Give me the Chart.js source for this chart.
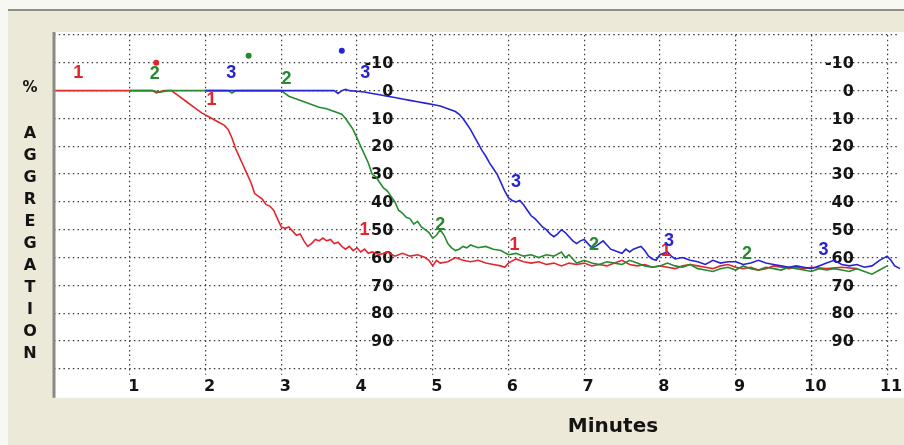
<!DOCTYPE html>
<html>
<head>
<meta charset="utf-8">
<script src="https://cdn.jsdelivr.net/npm/chart.js@4/dist/chart.umd.min.js"></script>
<style>
  html, body { margin: 0; padding: 0; }
  body { width: 904px; height: 445px; background: #f7f7f3; position: relative; overflow: hidden; font-family: 'DejaVu Sans', sans-serif; }
  #panel { position: absolute; left: 8px; top: 9px; right: 0; bottom: 0; background: #ece9d8; border-top: 2px solid #8f8f86; }
  #wrap { position: absolute; left: 0; top: 0; width: 904px; height: 445px; }
  .lbl { position: absolute; font-weight: bold; color: #141414; text-align: center; }
  #pct { left: 18px; top: 77px; width: 24px; font-size: 15px; line-height: 20px; }
  #word { left: 18px; top: 122px; width: 24px; font-size: 16px; line-height: 22px; }
  #xTitle { left: 533px; top: 411px; width: 160px; font-size: 20px; line-height: 28px; }
</style>
</head>
<body>
<div id="panel"></div>
<div id="wrap"><canvas id="c" width="904" height="445"></canvas></div>
<div class="lbl" id="pct">%</div>
<div class="lbl" id="word">A<br>G<br>G<br>R<br>E<br>G<br>A<br>T<br>I<br>O<br>N</div>
<div class="lbl" id="xTitle">Minutes</div>
<script>
// Aggregation traces (% aggregation vs. minutes) for the three channels
const timeRed = [0, 1.3, 1.35, 1.45, 1.55, 1.65, 1.75, 1.85, 1.95, 2.05, 2.15, 2.25, 2.3, 2.35, 2.4, 2.45, 2.5, 2.55, 2.6, 2.65, 2.7, 2.75, 2.8, 2.85, 2.9, 2.95, 3.0, 3.05, 3.1, 3.15, 3.2, 3.25, 3.3, 3.35, 3.4, 3.45, 3.5, 3.55, 3.6, 3.65, 3.7, 3.75, 3.8, 3.85, 3.9, 3.95, 4.0, 4.05, 4.1, 4.15, 4.2, 4.3, 4.4, 4.5, 4.6, 4.7, 4.8, 4.9, 4.95, 5.0, 5.05, 5.1, 5.2, 5.3, 5.4, 5.5, 5.6, 5.7, 5.8, 5.9, 5.95, 6.0, 6.1, 6.2, 6.3, 6.4, 6.5, 6.6, 6.7, 6.8, 6.9, 7.0, 7.1, 7.2, 7.3, 7.4, 7.5, 7.6, 7.7, 7.8, 7.9, 8.0, 8.1, 8.2, 8.3, 8.4, 8.5, 8.6, 8.7, 8.8, 8.9, 9.0, 9.1, 9.2, 9.3, 9.4, 9.5, 9.6, 9.7, 9.8, 9.9, 10.0, 10.2, 10.4, 10.6];
const aggRed = [0, 0, 0.8, 0, 0, 2, 4, 6, 8, 9.5, 11, 12.5, 14, 17, 21, 24, 27, 30, 33, 37, 38, 39, 41, 41.5, 43, 46, 49, 49.5, 49, 50.5, 52, 51.5, 54, 56, 55, 53.5, 54, 53, 54, 53.5, 55, 54.5, 56, 57, 56, 57.5, 56.5, 58, 57, 58.5, 58, 59, 58, 59.5, 58.5, 59.5, 59, 60, 61, 63, 61, 62, 61.5, 60, 61, 61.5, 61, 62, 62.5, 63, 63.5, 62, 60.5, 61.5, 62, 61.5, 62.5, 62, 63, 62, 62.5, 62, 63, 62.5, 63, 62, 61, 62.5, 63, 62.5, 63.5, 63, 63.5, 64, 63, 62.5, 63, 63.5, 64, 63, 62.5, 63.5, 64, 63.5, 64.5, 64, 63, 63.5, 64, 63.5, 64, 63.5, 64, 63.5, 64];

const timeGreen = [1.0, 1.3, 1.4, 1.5, 2.3, 2.35, 2.4, 3.0, 3.05, 3.1, 3.2, 3.3, 3.4, 3.5, 3.6, 3.7, 3.8, 3.85, 3.9, 3.95, 4.0, 4.05, 4.1, 4.15, 4.2, 4.25, 4.3, 4.35, 4.4, 4.45, 4.5, 4.55, 4.6, 4.65, 4.7, 4.75, 4.8, 4.85, 4.9, 4.95, 5.0, 5.05, 5.1, 5.15, 5.2, 5.25, 5.3, 5.35, 5.4, 5.45, 5.5, 5.6, 5.7, 5.8, 5.9, 6.0, 6.1, 6.2, 6.3, 6.4, 6.5, 6.6, 6.7, 6.75, 6.8, 6.85, 6.9, 7.0, 7.1, 7.2, 7.3, 7.4, 7.5, 7.6, 7.7, 7.8, 7.9, 8.0, 8.1, 8.2, 8.3, 8.4, 8.5, 8.6, 8.7, 8.8, 8.9, 9.0, 9.1, 9.2, 9.3, 9.4, 9.5, 9.6, 9.7, 9.8, 9.9, 10.0, 10.1, 10.2, 10.3, 10.4, 10.5, 10.6, 10.7, 10.8, 10.9, 11.0];
const aggGreen = [0, 0, 0.6, 0, 0, 0.9, 0, 0, 1, 2, 3, 4, 5, 6, 6.5, 7.5, 8.5, 10, 12, 14, 17, 20, 23, 26, 30, 31, 33, 35, 36, 38, 40, 43, 44, 45.5, 46, 48, 47, 49, 50, 51, 53, 52, 50, 52, 55, 56.5, 57.5, 57, 56, 56.5, 55.5, 56.5, 56, 57, 57.5, 59, 58.5, 59.5, 59, 60, 59, 59.5, 58, 60, 59, 60.5, 62, 61, 62, 62.5, 61.5, 62, 62.5, 61, 62, 63, 63.5, 63, 62, 63, 63.5, 62.5, 64, 64.5, 65, 64, 63.5, 64.5, 63, 64, 64.5, 63.5, 64, 64.5, 63.5, 64, 64.5, 65, 64, 64.5, 64, 64.5, 65, 64, 65, 66, 64.5, 63];

const timeBlue = [2.0, 3.7, 3.75, 3.8, 3.85, 3.9, 4.0, 4.1, 4.2, 4.3, 4.4, 4.5, 4.6, 4.7, 4.8, 4.9, 5.0, 5.1, 5.2, 5.3, 5.35, 5.4, 5.45, 5.5, 5.55, 5.6, 5.65, 5.7, 5.75, 5.8, 5.85, 5.9, 5.95, 6.0, 6.05, 6.1, 6.15, 6.2, 6.25, 6.3, 6.35, 6.4, 6.45, 6.5, 6.55, 6.6, 6.65, 6.7, 6.75, 6.8, 6.85, 6.9, 6.95, 7.0, 7.05, 7.1, 7.15, 7.2, 7.25, 7.3, 7.35, 7.4, 7.45, 7.5, 7.55, 7.6, 7.65, 7.7, 7.75, 7.8, 7.85, 7.9, 7.95, 8.0, 8.1, 8.15, 8.2, 8.3, 8.4, 8.5, 8.6, 8.7, 8.8, 8.9, 9.0, 9.1, 9.2, 9.3, 9.4, 9.5, 9.6, 9.7, 9.8, 9.9, 10.0, 10.1, 10.2, 10.3, 10.4, 10.5, 10.6, 10.7, 10.8, 10.9, 11.0, 11.05, 11.1, 11.17];
const aggBlue = [0, 0, 1, 0, -0.5, 0, 0.2, 0.5, 1, 1.5, 2, 2.5, 3, 3.5, 4, 4.5, 5, 5.5, 6.5, 7.5, 8.5, 10, 12, 14, 16.5, 19, 21.5, 23.5, 26, 28, 30, 33, 36, 38.5, 39.5, 40, 39.5, 41, 43, 45, 46, 47.5, 49, 50, 51.5, 52.5, 51.5, 50, 51, 52.5, 54, 55, 54, 53.5, 55, 56.5, 56, 55, 54, 55.5, 57, 57.5, 58, 58.5, 57, 58, 57, 56.5, 56, 57.5, 59.5, 60.5, 61, 59, 58, 59.5, 60.5, 60, 61, 61.5, 62.5, 61, 62, 61.5, 61.5, 62.5, 62, 61, 62, 62.5, 63, 63.5, 63, 63.5, 64, 63, 62, 61, 62.5, 63, 62.5, 63.5, 63, 61, 59.5, 61, 63, 64];

// Channel-number tags along each trace (0 = channel 1, 1 = channel 2, 2 = channel 3)
const tagChannel = [0, 0, 0, 0, 0, 1, 1, 1, 1, 1, 2, 2, 2, 2, 2];
const tagTime = [0.32, 2.08, 4.1, 6.08, 8.08, 1.33, 3.07, 5.1, 7.13, 9.15, 2.34, 4.11, 6.1, 8.12, 10.16];
const tagAgg = [-6.3, 3.3, 50.2, 55.6, 57.5, -6.0, -4.2, 48.3, 55.6, 58.6, -6.3, -6.3, 33, 54, 57.4];

// Start markers above each trace
const markTime = [1.35, 2.57, 3.8];
const markAgg = [-10, -12.5, -14.3];

// Axis tick values
const aggTicks = [-10, 0, 10, 20, 30, 40, 50, 60, 70, 80, 90];
const minuteLabels = ['', '1', '2', '3', '4', '5', '6', '7', '8', '9', '10', '11'];

const channelColors = ['#e3262e', '#268a2e', '#2424d4'];

const pairs = (t, v) => t.map((x, i) => ({ x: x, y: v[i] }));

const dotted = [1.5, 3.2];
const gridColor = '#3c3c3c';

const overlay = {
  id: 'overlay',
  beforeDraw(chart) {
    const { ctx, chartArea: a, width } = chart;
    ctx.save();
    ctx.fillStyle = '#ffffff';
    ctx.fillRect(a.left, a.top - 3, width - a.left, a.bottom - a.top + 32);
    ctx.restore();
  },
  beforeDatasetsDraw(chart) {
    const { ctx } = chart;
    const xs = chart.scales.x, ys = chart.scales.y;
    ctx.save();
    ctx.font = 'bold 16px "DejaVu Sans"';
    ctx.fillStyle = '#141414';
    ctx.textAlign = 'right';
    ctx.textBaseline = 'middle';
    [4.48, 10.56].forEach(col => {
      const px = xs.getPixelForValue(col);
      aggTicks.forEach(v => ctx.fillText(String(v), px, ys.getPixelForValue(v) + 1));
    });
    ctx.restore();
  },
  afterDatasetsDraw(chart) {
    const { ctx, chartArea: a } = chart;
    const xs = chart.scales.x, ys = chart.scales.y;
    ctx.save();
    ctx.font = 'bold 18px "Liberation Sans"';
    ctx.textAlign = 'center';
    ctx.textBaseline = 'middle';
    tagTime.forEach((t, i) => {
      ctx.fillStyle = channelColors[tagChannel[i]];
      ctx.fillText(String(tagChannel[i] + 1), xs.getPixelForValue(t), ys.getPixelForValue(tagAgg[i]));
    });
    // plot frame on the left
    ctx.strokeStyle = '#8a8a84';
    ctx.lineWidth = 3;
    ctx.beginPath();
    ctx.moveTo(a.left, a.top - 3);
    ctx.lineTo(a.left, a.bottom + 29);
    ctx.stroke();
    ctx.restore();
  }
};

const lineStyle = (color, order) => ({
  type: 'line',
  borderColor: color,
  borderWidth: 1.6,
  pointRadius: 0,
  tension: 0,
  fill: false,
  order: order
});

new Chart(document.getElementById('c'), {
  type: 'line',
  data: {
    datasets: [
      Object.assign({ label: '1', data: pairs(timeRed, aggRed) }, lineStyle(channelColors[0], 3)),
      Object.assign({ label: '2', data: pairs(timeGreen, aggGreen) }, lineStyle(channelColors[1], 2)),
      Object.assign({ label: '3', data: pairs(timeBlue, aggBlue) }, lineStyle(channelColors[2], 1)),
      {
        type: 'scatter',
        label: 'start',
        data: pairs(markTime, markAgg),
        pointRadius: 3,
        pointBorderWidth: 0,
        pointBackgroundColor: channelColors,
        order: 0
      }
    ]
  },
  options: {
    responsive: false,
    animation: false,
    devicePixelRatio: 1,
    layout: { padding: { left: 54, top: 35, right: 0, bottom: 47 } },
    plugins: { legend: { display: false }, tooltip: { enabled: false } },
    scales: {
      x: {
        type: 'linear',
        min: 0,
        max: 11.17,
        border: { display: false, dash: dotted },
        grid: {
          color: gridColor,
          lineWidth: 1.2,
          drawTicks: true,
          tickLength: 6,
          tickColor: gridColor,
          tickWidth: 1.2,
          tickBorderDash: dotted
        },
        ticks: {
          stepSize: 1,
          includeBounds: false,
          autoSkip: false,
          maxRotation: 0,
          padding: 2,
          labelOffset: 4,
          color: '#141414',
          font: { family: 'DejaVu Sans', size: 16, weight: 'bold' },
          callback: (v) => minuteLabels[v] !== undefined ? minuteLabels[v] : ''
        }
      },
      y: {
        type: 'linear',
        reverse: true,
        min: -20,
        max: 100,
        border: { display: false, dash: dotted },
        grid: { color: gridColor, lineWidth: 1.2, drawTicks: false },
        ticks: { display: false, stepSize: 10 }
      }
    }
  },
  plugins: [overlay]
});
</script>
</body>
</html>
